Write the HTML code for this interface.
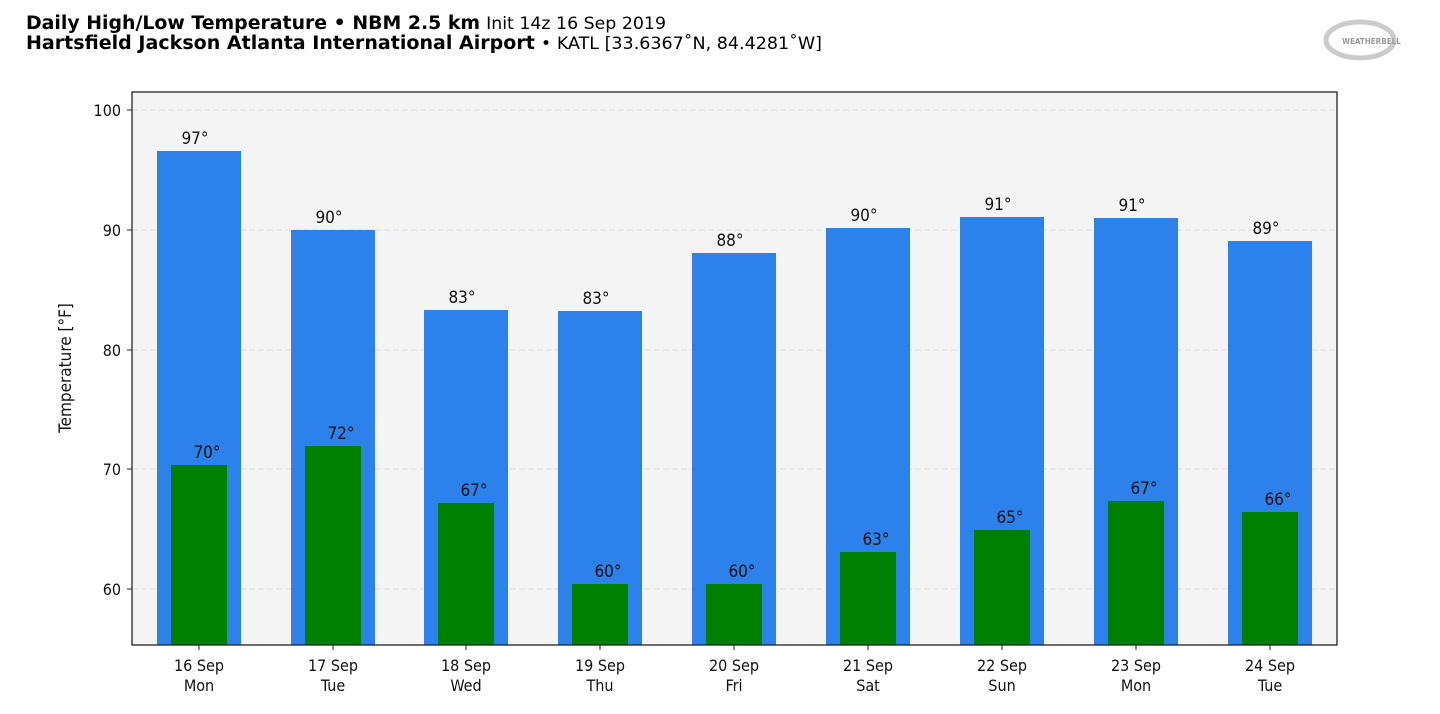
<!DOCTYPE html>
<html><head><meta charset="utf-8"><style>
html,body{margin:0;padding:0;background:#fff;width:1440px;height:714px;overflow:hidden}
svg{display:block}
text{font-family:"DejaVu Sans Condensed","DejaVu Sans","Liberation Sans",sans-serif}
.t{font-family:"DejaVu Sans","Liberation Sans",sans-serif}
</style></head><body>
<svg width="1440" height="714" viewBox="0 0 1440 714">
<text class="t" x="26" y="29" font-size="18.5" fill="#000" textLength="640" lengthAdjust="spacingAndGlyphs"><tspan font-weight="bold">Daily High/Low Temperature • NBM 2.5 km</tspan> <tspan font-size="17">Init 14z 16 Sep 2019</tspan></text>
<text class="t" x="26" y="49" font-size="18.5" fill="#000" textLength="796" lengthAdjust="spacingAndGlyphs"><tspan font-weight="bold">Hartsfield Jackson Atlanta International Airport</tspan> <tspan font-size="17">• KATL [33.6367˚N, 84.4281˚W]</tspan></text>
<g opacity="0.6">
<ellipse cx="1360" cy="40" rx="34" ry="18" fill="none" stroke="#aaa" stroke-width="5"/>
<text x="1342" y="44" font-size="8" font-weight="bold" fill="#555" font-family="Liberation Serif,serif">WEATHERBELL</text>
</g>
<rect x="132" y="92" width="1205" height="553" fill="#f4f4f4"/>
<g stroke="#dcdcdc" stroke-dasharray="6,3" stroke-width="1">
<line x1="132" x2="1337" y1="110" y2="110"/><line x1="132" x2="1337" y1="230" y2="230"/>
<line x1="132" x2="1337" y1="350" y2="350"/><line x1="132" x2="1337" y1="469" y2="469"/>
<line x1="132" x2="1337" y1="589" y2="589"/>
</g>
<g fill="#2c82ea">
<rect x="157" y="151" width="84" height="494"/><rect x="291" y="230" width="84" height="415"/>
<rect x="424" y="310" width="84" height="335"/><rect x="558" y="311" width="84" height="334"/>
<rect x="692" y="253" width="84" height="392"/><rect x="826" y="228" width="84" height="417"/>
<rect x="960" y="217" width="84" height="428"/><rect x="1094" y="218" width="84" height="427"/>
<rect x="1228" y="241" width="84" height="404"/>
</g>
<g fill="#008000">
<rect x="171" y="465" width="56" height="180"/><rect x="305" y="446" width="56" height="199"/>
<rect x="438" y="503" width="56" height="142"/><rect x="572" y="584" width="56" height="61"/>
<rect x="706" y="584" width="56" height="61"/><rect x="840" y="552" width="56" height="93"/>
<rect x="974" y="530" width="56" height="115"/><rect x="1108" y="501" width="56" height="144"/>
<rect x="1242" y="512" width="56" height="133"/>
</g>
<g font-size="17" fill="#111" text-anchor="middle">
<text x="195" y="144">97°</text><text x="329" y="223">90°</text><text x="462" y="303">83°</text>
<text x="596" y="304">83°</text><text x="730" y="246">88°</text><text x="864" y="221">90°</text>
<text x="998" y="210">91°</text><text x="1132" y="211">91°</text><text x="1266" y="234">89°</text>
<text x="207" y="458">70°</text><text x="341" y="439">72°</text><text x="474" y="496">67°</text>
<text x="608" y="577">60°</text><text x="742" y="577">60°</text><text x="876" y="545">63°</text>
<text x="1010" y="523">65°</text><text x="1144" y="494">67°</text><text x="1278" y="505">66°</text>
</g>
<rect x="132" y="92" width="1205" height="553" fill="none" stroke="#222" stroke-width="1.3"/>
<g stroke="#222" stroke-width="1">
<line x1="127" x2="132" y1="110" y2="110"/><line x1="127" x2="132" y1="230" y2="230"/>
<line x1="127" x2="132" y1="350" y2="350"/><line x1="127" x2="132" y1="469" y2="469"/>
<line x1="127" x2="132" y1="589" y2="589"/>
<line x1="199" x2="199" y1="645" y2="650"/><line x1="333" x2="333" y1="645" y2="650"/>
<line x1="466" x2="466" y1="645" y2="650"/><line x1="600" x2="600" y1="645" y2="650"/>
<line x1="734" x2="734" y1="645" y2="650"/><line x1="868" x2="868" y1="645" y2="650"/>
<line x1="1002" x2="1002" y1="645" y2="650"/><line x1="1136" x2="1136" y1="645" y2="650"/>
<line x1="1270" x2="1270" y1="645" y2="650"/>
</g>
<g font-size="16" fill="#111" text-anchor="end">
<text x="121" y="116">100</text><text x="121" y="236">90</text><text x="121" y="356">80</text>
<text x="121" y="475">70</text><text x="121" y="595">60</text>
</g>
<text transform="translate(71,368) rotate(-90)" font-size="17" fill="#111" text-anchor="middle">Temperature [°F]</text>
<g font-size="16" fill="#111" text-anchor="middle">
<text x="199" y="671">16 Sep</text><text x="199" y="691">Mon</text>
<text x="333" y="671">17 Sep</text><text x="333" y="691">Tue</text>
<text x="466" y="671">18 Sep</text><text x="466" y="691">Wed</text>
<text x="600" y="671">19 Sep</text><text x="600" y="691">Thu</text>
<text x="734" y="671">20 Sep</text><text x="734" y="691">Fri</text>
<text x="868" y="671">21 Sep</text><text x="868" y="691">Sat</text>
<text x="1002" y="671">22 Sep</text><text x="1002" y="691">Sun</text>
<text x="1136" y="671">23 Sep</text><text x="1136" y="691">Mon</text>
<text x="1270" y="671">24 Sep</text><text x="1270" y="691">Tue</text>
</g>
</svg>
</body></html>
